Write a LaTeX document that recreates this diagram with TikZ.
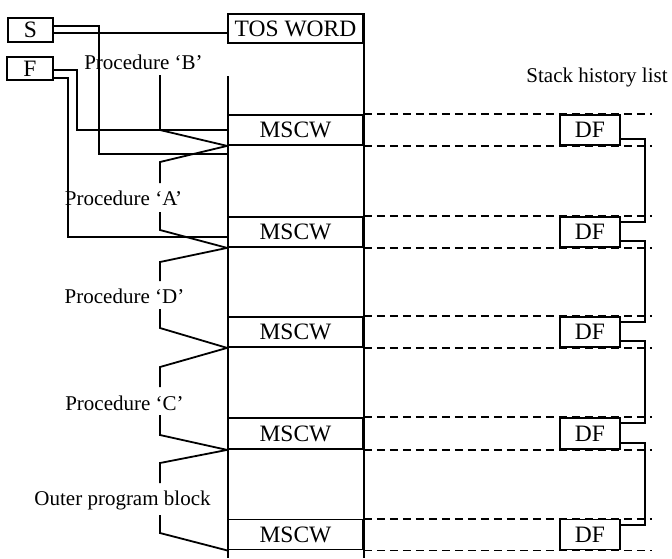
\documentclass[tikz,border=0pt]{standalone}
\usepackage{fontspec}
\setmainfont{Liberation Serif}
\usetikzlibrary{calc}
\begin{document}
\begin{tikzpicture}[x=0.5pt,y=-0.5pt,line width=0.9pt,
  cell/.style={draw,minimum width=67.5pt,minimum height=15pt,inner sep=0pt,
    font=\fontsize{11.75}{13}\selectfont},
  dfbox/.style={draw,minimum width=30pt,minimum height=15pt,inner sep=0pt,
    font=\fontsize{11.75}{13}\selectfont},
  reg/.style={draw,minimum width=22.5pt,minimum height=12pt,inner sep=0pt,
    font=\fontsize{11.75}{13}\selectfont},
  lbl/.style={font=\fontsize{10.5}{12}\selectfont,inner sep=0pt},
  trail/.style={dash pattern=on 4pt off 2.5pt}]
\useasboundingbox (0,0) rectangle (672,558);

% registers
\node[reg] (s) at (30.5,30) {S};
\node[reg,minimum width=23pt,minimum height=11.5pt] (f) at (30,68.5) {F};

% stack column
\node[cell,minimum height=14.5pt] (tos) at (295.5,28.5) {TOS WORD};
\node[cell] (m1) at (295.5,130) {MSCW};
\node[cell] (m2) at (295.5,232) {MSCW};
\node[cell] (m3) at (295.5,332) {MSCW};
\node[cell,minimum height=15.5pt] (m4) at (295.5,433.5) {MSCW};
\node[cell] (m5) at (295.5,534.5) {MSCW};
\coordinate (colbot) at (228,558);
\coordinate (coltop) at (228,76);
\draw (coltop) -- (colbot);
\draw (tos.north east) -- (tos.north east |- colbot);

% stack history list
\node[lbl] (shl) at (597,77) {Stack history list};
\node[dfbox] (d1) at (590,130) {DF};
\node[dfbox] (d2) at (590,232) {DF};
\node[dfbox] (d3) at (590,332) {DF};
\node[dfbox,minimum height=15.5pt] (d4) at (590,433.5) {DF};
\node[dfbox] (d5) at (590,534.5) {DF};
\coordinate (dend) at (652,0);
\foreach \i in {1,...,5}{
  \draw[trail] (m\i.north east) -- (m\i.north east -| dend);
  \draw[trail] (m\i.south east) -- (m\i.south east -| dend);
}
\foreach \a/\b in {1/2,2/3,3/4,4/5}
  \draw ([yshift=3.5pt]d\a.south east) -- ++(12pt,0) |- ([yshift=-3pt]d\b.north east);

% register links
\coordinate (sv) at (99,154);
\coordinate (fv1) at (77,130);
\coordinate (fv2) at (68,237);
\draw ([yshift=2pt]s.east) -| (sv) -- (sv -| m1.west);
\draw ([yshift=-1.5pt]s.east) -- ([yshift=-1.5pt]s.east -| tos.west);
\draw ([yshift=-0.75pt]f.east) -| (fv1) -- (m1.west);
\draw ([yshift=-4.75pt]f.east) -| (fv2) -- (fv2 -| m2.west);

% procedure labels
\node[lbl] (pb) at (143.5,62) {Procedure ‘B’};
\node[lbl] (pa) at (123.5,198) {Procedure ‘A’};
\node[lbl] (pd) at (124.5,296) {Procedure ‘D’};
\node[lbl] (pc) at (124.5,403) {Procedure ‘C’};
\node[lbl] (po) at (122.5,500) {Outer program block};

% extent brackets
\draw (160,75) -- (160,130) -- (m1.south west);
\draw (m1.south west) -- (160,162) -- (160,183);
\draw (160,212) -- (160,230) -- (m2.south west);
\draw (m2.south west) -- (160,262) -- (160,281);
\draw (160,309) -- (160,328) -- (m3.south west);
\draw (m3.south west) -- (160,367) -- (160,387);
\draw (160,415) -- (160,435) -- (m4.south west);
\draw (m4.south west) -- (160,463) -- (160,483);
\draw (160,515) -- (160,533) -- (m5.south west);
\end{tikzpicture}
\end{document}
